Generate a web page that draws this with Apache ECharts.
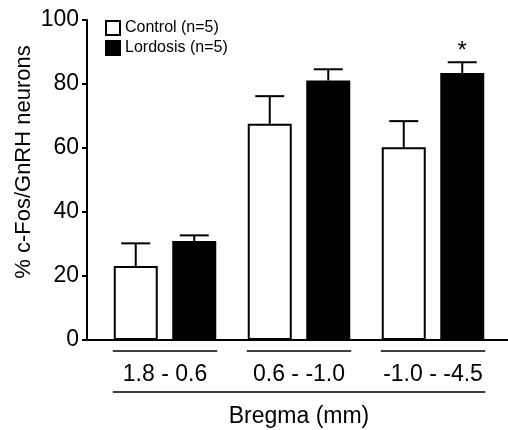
<!DOCTYPE html>
<html>
<head>
<meta charset="utf-8">
<script src="https://cdn.jsdelivr.net/npm/echarts@6/dist/echarts.min.js"></script>
<style>
  html, body { margin: 0; padding: 0; background: #fff; }
  #chart { width: 508px; height: 430px; }
</style>
</head>
<body>
<div id="chart"></div>
<script>
// data
var categories = ['1.8 - 0.6', '0.6 - -1.0', '-1.0 - -4.5']
var controlMean = [23.1, 67.6, 60.2]
var controlErr = [7.1, 8.6, 8.2]
var lordosisMean = [30.9, 81.1, 83.4]
var lordosisErr = [1.8, 3.5, 3.4]
var lordosisSig = ['', '', '*']
var seriesNames = ['Control (n=5)', 'Lordosis (n=5)']

var FONT = 'Liberation Sans'
var BAR_W = 44
var GAP_PX = 14.5
var Y_OFFSET = 11
var HALF = (BAR_W + GAP_PX) / 2

var chart = echarts.init(document.getElementById('chart'))

function errItem(offset, sig) {
    return function (params, api) {
        var i = api.value(0)
        var m = api.value(1)
        var e = api.value(2)
        var base = api.coord([i, m])
        var top = api.coord([i, m + e])
        var x = base[0] + offset
        var kids = [
            { type: 'line', shape: { x1: x, y1: base[1], x2: x, y2: top[1] }, style: { stroke: '#000', lineWidth: 2 } },
            { type: 'line', shape: { x1: x - 14.5, y1: top[1], x2: x + 14.5, y2: top[1] }, style: { stroke: '#000', lineWidth: 2 } }
        ]
        if (sig && sig[params.dataIndex]) {
            kids.push({ type: 'text', x: x, y: top[1] + 1, style: {
                text: sig[params.dataIndex], fill: '#000', font: '24px ' + FONT, align: 'center', verticalAlign: 'bottom'
            } })
        }
        return { type: 'group', children: kids }
    }
}

function decorItem(params, api) {
    var i = api.value(0)
    var c = api.coord([i, 0])
    var cs = params.coordSys
    var halfGroup = HALF + BAR_W / 2 + 1
    var kids = [
        { type: 'line', shape: { x1: c[0] - halfGroup, y1: c[1] + 11, x2: c[0] + halfGroup, y2: c[1] + 11 }, style: { stroke: '#000', lineWidth: 1.5 } }
    ]
    if (params.dataIndex === 0) {
        var last = api.coord([categories.length - 1, 0])
        kids.push({ type: 'line', shape: { x1: c[0] - halfGroup, y1: c[1] + 52, x2: last[0] + halfGroup, y2: c[1] + 52 }, style: { stroke: '#000', lineWidth: 1.5 } })
        kids.push({ type: 'line', shape: { x1: cs.x - Y_OFFSET, y1: c[1], x2: cs.x + cs.width + 10, y2: c[1] }, style: { stroke: '#000', lineWidth: 2 } })
    }
    return { type: 'group', children: kids }
}

chart.setOption({
    animation: false,
    textStyle: { fontFamily: FONT, color: '#000' },
    grid: { left: 98, right: 8, top: 20, bottom: 90, outerBoundsMode: 'none' },
    legend: {
        data: seriesNames,
        orient: 'vertical',
        left: 100, top: 15,
        itemWidth: 14, itemHeight: 14, itemGap: 4,
        icon: 'rect',
        textStyle: { fontSize: 16, color: '#000', fontFamily: FONT }
    },
    xAxis: {
        type: 'category',
        data: categories,
        axisLine: { show: false },
        axisTick: { show: false },
        axisLabel: { fontSize: 23, color: '#000', margin: 23 },
        name: 'Bregma (mm)',
        nameLocation: 'middle',
        nameGap: 65,
        nameMoveOverlap: false,
        nameTextStyle: { fontSize: 23, color: '#000' }
    },
    yAxis: {
        type: 'value',
        min: 0, max: 100, interval: 20,
        offset: Y_OFFSET,
        splitLine: { show: false },
        axisLine: { show: true, lineStyle: { color: '#000', width: 2 } },
        axisTick: { show: true, length: 5, lineStyle: { color: '#000', width: 2 } },
        axisLabel: { fontSize: 23, color: '#000', margin: 8 },
        name: '% c-Fos/GnRH neurons',
        nameLocation: 'middle',
        nameRotate: 90,
        nameGap: 52,
        nameMoveOverlap: false,
        nameTextStyle: { fontSize: 22, color: '#000', padding: [0, 0, 0, 36] }
    },
    series: [
        {
            name: seriesNames[0], type: 'bar', data: controlMean,
            barWidth: BAR_W, barGap: (GAP_PX / BAR_W * 100) + '%',
            itemStyle: { color: '#fff', borderColor: '#000', borderWidth: 2 }
        },
        {
            name: seriesNames[1], type: 'bar', data: lordosisMean,
            barWidth: BAR_W, barGap: (GAP_PX / BAR_W * 100) + '%',
            itemStyle: { color: '#000', borderColor: '#000', borderWidth: 2 }
        },
        {
            type: 'custom', renderItem: errItem(-HALF), z: 1,
            data: controlMean.map(function (m, i) { return [i, m, controlErr[i]] })
        },
        {
            type: 'custom', renderItem: errItem(HALF, lordosisSig), z: 1,
            data: lordosisMean.map(function (m, i) { return [i, m, lordosisErr[i]] })
        },
        {
            type: 'custom', renderItem: decorItem, clip: false, silent: true,
            data: categories.map(function (c, i) { return [i, 0] })
        }
    ]
})
</script>
</body>
</html>
